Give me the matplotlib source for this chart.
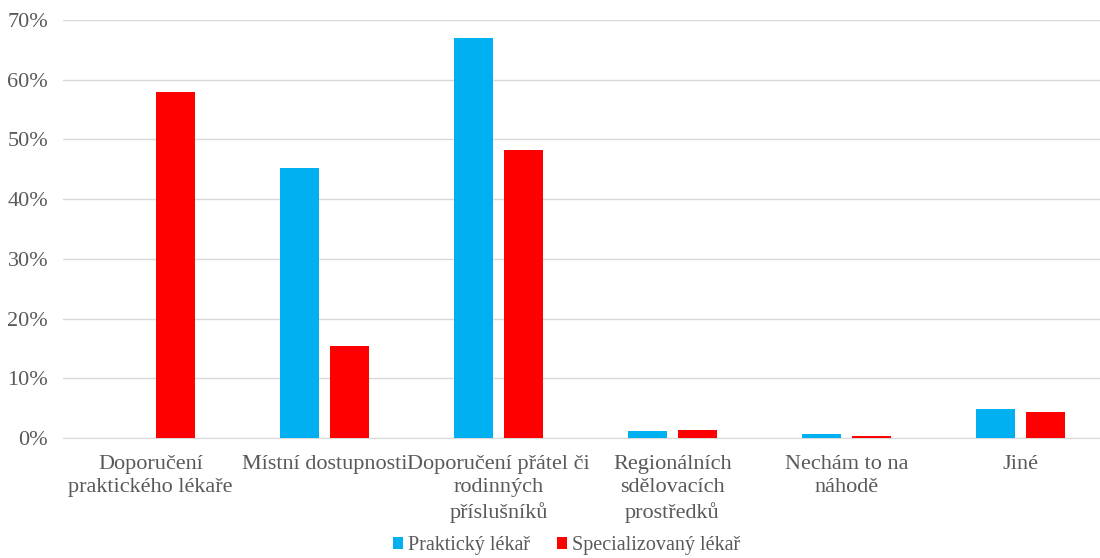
import numpy as np
import matplotlib.pyplot as plt
from matplotlib.ticker import PercentFormatter

# Data (percent)
categories = ['Doporučení\npraktického lékaře', 'Místní dostupnosti',
              'Doporučení přátel či\nrodinných\npříslušníků',
              'Regionálních\nsdělovacích\nprostředků', 'Nechám to na\nnáhodě', 'Jiné']
prakticky = [0.0, 45.3, 67.0, 1.1, 0.7, 4.8]
specializovany = [58.0, 15.4, 48.2, 1.4, 0.3, 4.3]

plt.rcParams['font.family'] = ['Liberation Serif', 'DejaVu Serif']
text_color = '#595959'

fig = plt.figure(figsize=(11, 5.58), dpi=100)
ax = fig.add_axes([0.0577, 0.215, 0.9423, 0.749])

x = np.arange(len(categories))
w = 0.224
off = 0.142
ax.bar(x - off, prakticky, w, color='#00B0F0', label='Praktický lékař', zorder=3)
ax.bar(x + off, specializovany, w, color='#FF0000', label='Specializovaný lékař', zorder=3)

ax.set_xlim(-0.5, 5.457)
ax.set_ylim(0, 70)
ax.set_yticks(np.arange(0, 71, 10))
ax.yaxis.set_major_formatter(PercentFormatter(decimals=0))
ax.grid(axis='y', color='#D9D9D9', linewidth=1, zorder=0)
ax.set_xticks(x)
ax.set_xticklabels(categories, fontsize=15.8, color=text_color, linespacing=1.32)
ax.tick_params(axis='both', length=0, labelsize=16, labelcolor=text_color)
ax.tick_params(axis='x', pad=12)
ax.tick_params(axis='y', pad=11)
for s in ['top', 'right', 'left']:
    ax.spines[s].set_visible(False)
ax.spines['bottom'].set_color('#D9D9D9')

leg = fig.legend(loc='center', bbox_to_anchor=(0.515, 0.022), ncol=2, frameon=False,
                 fontsize=14.5, handlelength=0.5, handleheight=0.5, handletextpad=0.25,
                 columnspacing=1.3, borderpad=0)
for t in leg.get_texts():
    t.set_color(text_color)

fig.savefig('out.png', dpi=100)
